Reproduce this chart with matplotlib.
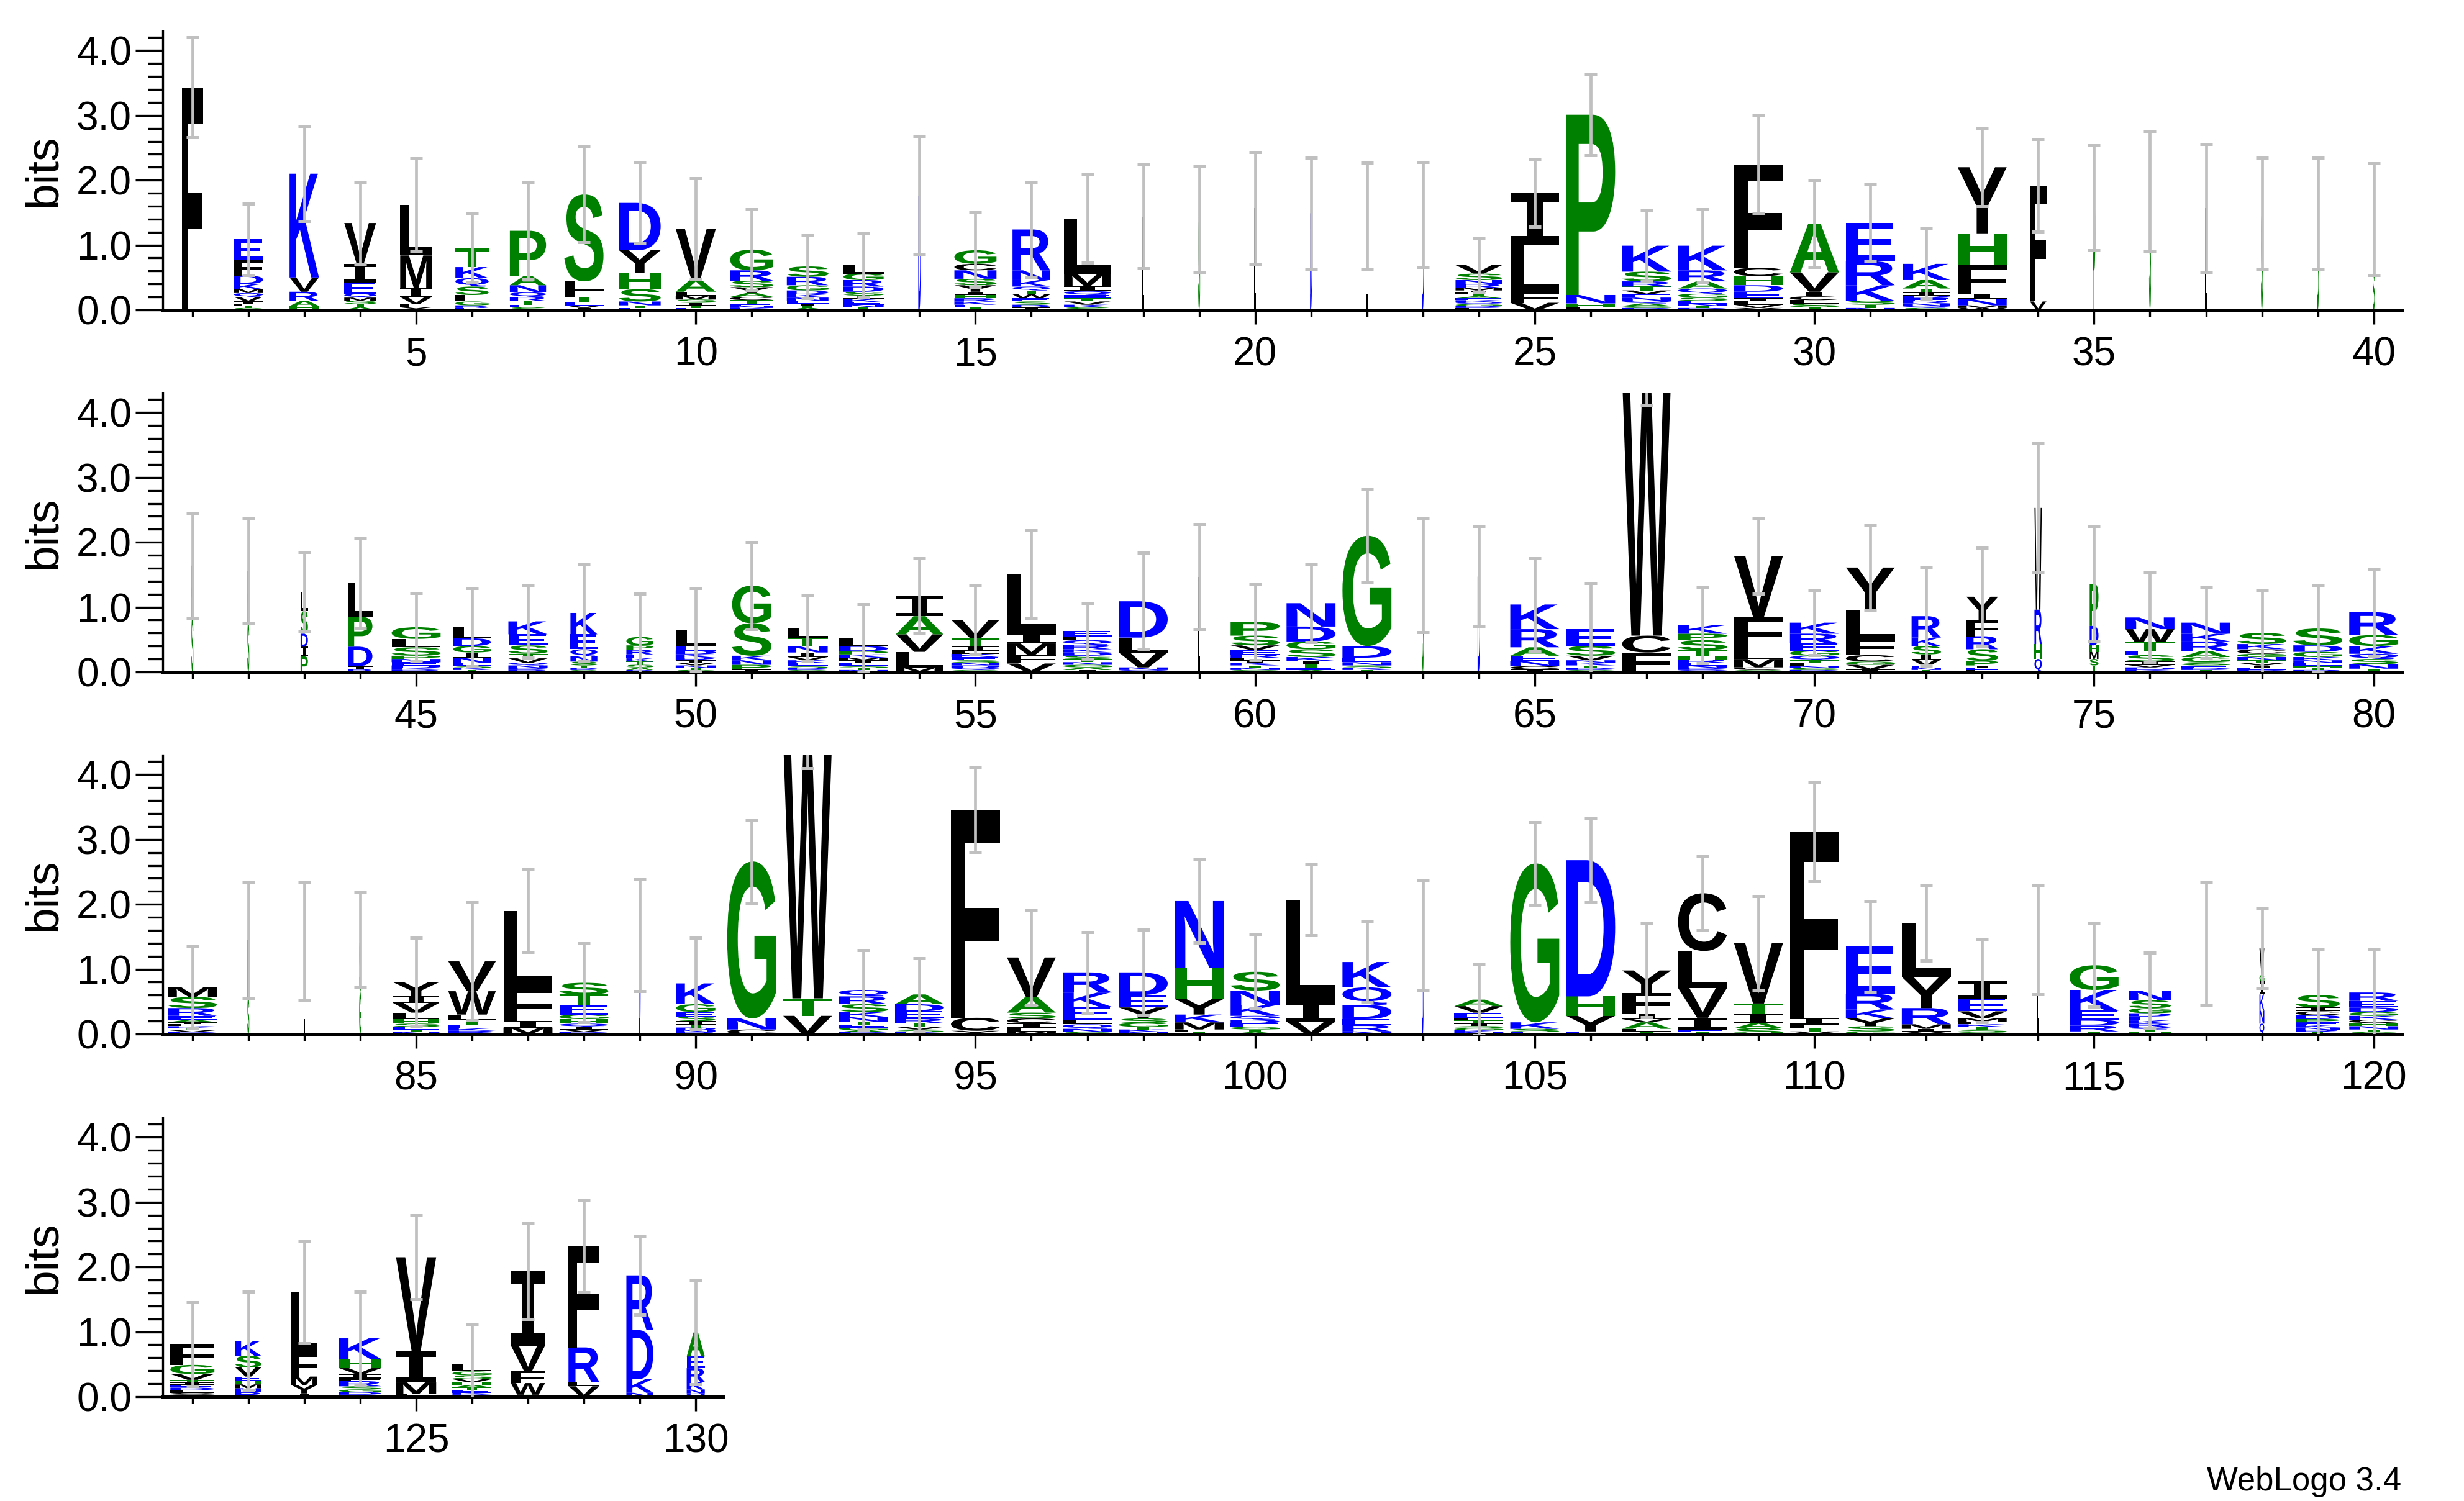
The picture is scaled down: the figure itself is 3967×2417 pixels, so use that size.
import matplotlib
matplotlib.use("Agg")
import matplotlib.pyplot as plt
from matplotlib.textpath import TextPath
from matplotlib.font_manager import FontProperties
from matplotlib.patches import PathPatch
from matplotlib.transforms import Affine2D

# ---------------- data ----------------
# stacks: letters from top to bottom with heights in bits
stacks_row1 = [
    "F3.43", "E.32 F.24 D.13 K.08 M.06 Q.06 V.07 I.04 L.03 T.03 S.03",
    "K1.6 V.22 R.14 A.08 H.06", "V.63 I.29 E.17 Q.06 M.05 S.05 T.05 A.04",
    "L.78 M.5 I.14 V.11 F.05 Y.04", "T.29 K.17 Q.13 S.13 L.1 G.06 R.04 E.03",
    "P.7 A.14 N.11 Q.07 R.06 T.06 E.04 S.04", "S1.34 L.14 F.1 T.08 E.05 V.04 I.03",
    "D.73 Y.35 H.25 S.19 N.06 T.04 E.03", "V.78 A.19 L.06 M.06 S.05 I.04 T.04 E.03",
    "G.32 R.16 S.1 Y.09 A.06 C.05 T.05 E.04 N.03 K.03",
    "S.16 R.13 G.08 D.06 K.05 N.05 E.04 I.04 T.03 A.03",
    "L.13 G.1 R.1 D.08 S.06 I.05 K.05 E.04 N.04 T.04", "D1.76",
    "G.21 C.1 N.13 S.1 Y.1 I.05 H.05 R.05 K.05 E.04 T.04",
    "R.63 N.15 K.1 Q.06 T.06 W.06 E.05 S.05 D.04 I.04",
    "L.85 M.19 I.08 Q.06 E.05 T.05 V.05 K.04 S.04",
    "L1.44", "S1.4", "L1.57", "D1.49", "L1.45", "D1.47",
    "V.13 S.1 N.06 R.06 M.04 I.03 L.03 T.03 A.03 E.03 K.03 Q.03 G.03 D.03 F.03",
    "I.8 L.73 F.16 V.11", "P2.78 N.13 H.05 L.05",
    "K.4 S.15 R.08 T.06 V.06 E.05 N.05 Q.04 A.04 G.03 D.03",
    "K.38 R.17 A.11 Q.08 G.06 S.05 E.04 N.04 T.03 D.03",
    "F1.59 C.13 H.14 D.1 E.1 I.05 L.05 V.05 Y.03",
    "A.75 V.3 I.07 C.06 L.05 S.06 T.04", "E.59 R.37 K.24 S.06 T.05 N.03",
    "K.25 A.13 T.06 I.05 D.04 E.04 R.04 N.04 Q.03 S.03",
    "Y1.02 H.49 F.44 I.08 N.1 M.04 W.03", "F1.79 V.13",
    "P1.73", "S1.83", "L1.57", "S1.49", "S1.49", "L.8 S.6",
]
stacks_row2 = [
    "K.8 S.84", "K.8 S.76", "L.3 S.35 D.2 I.15 P.24", "L.52 P.46 D.3 I.05 R.04",
    "G.18 L.13 S.13 P.05 N.05 E.05 D.04 K.03 R.03",
    "L.17 D.12 G.1 I.08 N.08 E.04 S.04 K.03 T.03",
    "K.2 E.17 S.13 T.07 V.07 Q.04 N.04 D.03 R.03",
    "K.33 E.23 Q.11 N.08 S.06 T.04 D.03 G.03",
    "G.13 P.07 R.07 E.06 K.05 T.05 S.04 A.04 D.03",
    "L.25 E.07 D.06 K.05 R.04 I.04 V.04 N.04 T.03 S.03",
    "G.58 S.5 K.07 N.07 P.07 I.04",
    "L.15 T.13 N.1 I.07 V.05 K.04 E.04 S.04 D.03 G.03",
    "L.12 D.08 P.05 K.05 M.04 I.04 E.04 S.04 T.03 N.03",
    "I.31 A.28 V.27 L.24 M.07",
    "V.28 T.12 I.08 L.04 K.05 E.05 S.04 N.04 D.04 Q.03 G.03",
    "L.9 I.16 M.18 F.13 V.13",
    "E.08 L.06 Q.07 R.07 K.05 D.05 S.05 T.05 N.04 G.04 A.04 I.03",
    "D.56 L.23 V.23 N.04 Q.03", "L1.47",
    "P.21 S.15 V.07 E.07 R.05 L.04 I.04 K.04 T.04 N.03 G.03",
    "N.36 D.23 G.12 S.12 K.06 I.05 T.05 E.04 A.03",
    "G1.7 D.18 E.07 N.05 S.04 K.03 T.03", "S1.49", "D1.47",
    "K.38 R.28 A.13 E.08 N.08 C.05 I.04",
    "E.26 S.15 V.07 N.04 K.04 T.04 D.03 G.03",
    "W4.0 C.26 F.3",
    "K.13 P.1 S.15 T.1 H.05 R.05 E.04 N.04 D.03 Q.03",
    "V.94 F.5 L.15 M.13 C.04 G.03",
    "K.17 R.15 E.11 G.08 Q.07 T.05 L.04 N.03 S.03 D.03",
    "Y.65 L.45 F.25 C.1 G.05 V.07 I.04",
    "R.33 K.13 S.13 I.08 V.1 E.03 N.03 T.03",
    "Y.36 F.25 R.2 S.18 P.07 I.04 E.03 L.03",
    "W1.57 R.53 H.23 Q.2", "P.65 D.3 H.1 M.11 S.1 T.1",
    "N.18 W.2 T.13 E.07 S.1 I.05 V.04 D.04 K.03",
    "N.17 K.12 R.15 A.09 G.08 S.05 E.04 D.03 T.03",
    "S.17 K.08 C.07 G.05 N.05 T.04 V.04 I.04 E.03 D.03",
    "S.26 D.1 G.08 K.05 N.04 E.04 H.04 T.03 R.03",
    "R.35 G.17 K.12 Q.08 S.08 N.07 T.05",
]
stacks_row3 = [
    "M.15 S.17 R.12 E.06 A.04 I.03 L.03 K.03 T.03 V.03 D.03",
    "L.9 S.55", "L1.43", "S.8 G.65",
    "Y.22 I.1 V.15 L.1 H.07 S.05 E.04 T.04 N.03",
    "V.46 W.36 L.08 T.08 E.05 K.04 R.05", "L1.19 F.51 I.1 M.1",
    "S.18 T.17 E.14 G.07 H.07 Q.05 I.04 V.04 D.03", "D1.52",
    "K.32 G.12 E.07 S.07 I.06 T.04 D.04 N.03 R.03", "G2.42 N.17 C.07",
    "W4.0 T.27 V.28", "Q.1 R.12 S.12 K.08 N.07 T.05 E.04 G.04 A.03 D.03",
    "A.15 D.11 E.11 R.07 T.06 V.04 S.04 K.03", "F3.21 C.2 Y.05",
    "V.61 A.24 S.09 C.07 I.08 L.05 M.04", "R.31 K.22 E.2 L.07 Q.07 N.05 S.03",
    "D.35 E.19 Y.17 S.07 G.06 T.04 K.04 N.03",
    "N1.03 H.48 Y.24 K.12 M.11 L.04 T.03",
    "S.29 N.22 K.17 Q.06 D.06 E.05 G.04 T.04 A.03",
    "L1.57 I.31 V.19", "K.39 Q.27 D.22 E.09 R.1 N.04", "D1.52",
    "A.1 V.1 E.08 L.04 T.05 I.04 S.03 G.03 K.03 N.03",
    "G2.45 K.1 S.05 E.03", "D2.1 H.3 Y.24 E.04",
    "Y.35 F.31 I.09 V.05 A.1 L.04 T.04", "C.89 L.57 V.46 I.18 E.04 T.03",
    "V.93 T.16 I.14 A.08 S.09", "F2.87 I.11 L.05 T.05 V.04",
    "E.73 R.24 K.14 Y.12 S.08 G.04", "L.83 Y.48 R.25 M.07 I.04 V.04",
    "I.27 E.2 V.11 M.05 L.04 K.04 T.04 S.04 G.03", "L1.45",
    "G.38 K.32 E.14 D.09 R.09 T.04",
    "N.15 S.12 G.08 D.05 E.06 K.05 R.05 Q.04 T.04 H.03", "L1.4",
    "V.41 G.1 I.2 K.25 N.2 Q.16",
    "S.19 I.06 C.06 D.06 P.05 E.04 K.04 N.04 R.03 T.03",
    "R.13 E.1 D.07 G.06 K.06 C.05 H.05 N.05 T.04 S.03",
]
stacks_row4 = [
    "F.32 G.14 V.09 T.04 I.04 E.04 D.04 L.04 C.03 M.03",
    "K.23 S.18 V.14 E.06 H.06 M.06 N.06 R.07",
    "L.94 F.36 M.13 Y.13 I.05",
    "K.32 H.14 V.09 I.06 F.05 R.08 S.05 G.04 D.04 Q.03",
    "V1.45 I.48 M.18 L.04",
    "L.12 G.06 S.06 V.05 H.04 A.04 T.04 E.04 K.03 D.03",
    "I1.15 V.4 F.18 W.18 G.03", "F1.56 R.53 L.07 V.16",
    "R.84 D.76 K.21 N.06", "A.37 E.18 R.21 K.12 N.06 Q.05",
]
# fraction of full column width (non-gap fraction)
width_row1 = [.43, .6, .6, .65, .65, .68, .74, .8, .85, .82, .88, .85, .82, .05, .86, .77, .95,
              .04, .04, .04, .04, .04, .04, .95, 1, 1, 1, 1, 1, 1, 1, .97, 1, .34, .05, .04, .04, .04, .04, .04]
width_row2 = [.04, .04, .15, .5, 1, .77, .8, .55, .55, .82, .8, .82, 1, .97, .98, 1, 1, 1, .04, 1,
              1, 1, .03, .05, 1, 1, 1, 1, 1, 1, 1, .6, .65, .15, .18, 1, 1, 1, 1, 1]
width_row3 = [1, .04, .03, .04, .95, .97, 1, 1, .03, .8, 1, 1, 1, 1, 1, 1, 1, 1, 1, 1,
              1, 1, .03, 1, 1, 1, 1, 1, 1, 1, 1, 1, 1, .05, 1, .85, .02, .1, .9, 1]
width_row4 = [.9, .53, .53, .86, .82, .8, .7, .63, .55, .37]
# upper end of the error bar at each position (bits)
err_top_row1 = [4.2, 1.64, 2.83, 1.97, 2.34, 1.48, 1.96, 2.52, 2.28, 2.03, 1.55, 1.16, 1.18, 2.67, 1.5,
                1.97, 2.09, 2.24, 2.22, 2.43, 2.35, 2.27, 2.28, 1.11, 2.32, 3.64, 1.54, 1.55, 3.0, 2.0,
                1.93, 1.25, 2.8, 2.63, 2.54, 2.76, 2.56, 2.35, 2.35, 2.26]
err_top_row2 = [2.45, 2.37, 1.85, 2.07, 1.22, 1.29, 1.34, 1.66, 1.21, 1.29, 2.0, 1.19, 1.04, 1.75, 1.33,
                2.18, 1.06, 1.84, 2.28, 1.36, 1.66, 2.82, 2.37, 2.24, 1.75, 1.37, 5.0, 1.31, 2.37, 1.26,
                2.27, 1.62, 1.92, 3.53, 2.25, 1.54, 1.31, 1.26, 1.34, 1.59]
err_top_row3 = [1.35, 2.34, 2.34, 2.18, 1.48, 2.03, 2.54, 1.4, 2.38, 1.48, 3.3, 5.0, 1.29, 1.17, 4.11,
                1.91, 1.57, 1.61, 2.69, 1.53, 2.62, 1.73, 2.37, 1.08, 3.27, 3.33, 1.7, 2.74, 2.13, 3.88,
                2.05, 2.29, 1.46, 2.29, 1.7, 1.25, 2.35, 1.93, 1.31, 1.31]
err_top_row4 = [1.46, 1.62, 2.4, 1.62, 2.8, 1.11, 2.68, 3.03, 2.48, 1.79]

rows = [
    (1, stacks_row1, width_row1, err_top_row1, 40),
    (41, stacks_row2, width_row2, err_top_row2, 40),
    (81, stacks_row3, width_row3, err_top_row3, 40),
    (121, stacks_row4, width_row4, err_top_row4, 10),
]

COLORS = {}
for c in "RKDENQ":
    COLORS[c] = "#0000ff"
for c in "SGHTAP":
    COLORS[c] = "#008000"
for c in "YVMCLFIW":
    COLORS[c] = "#000000"

FULL_W = 0.875
YMAX = 4.3

fp = FontProperties(family="Liberation Sans", weight="bold")
fp_serif_i = FontProperties(family="DejaVu Sans Mono", weight="bold")
_cache = {}


def glyph(ch):
    if ch not in _cache:
        p = TextPath((0, 0), ch, size=1, prop=fp_serif_i if ch == "I" else fp)
        _cache[ch] = (p, p.get_extents())
    return _cache[ch]


def draw_letter(ax, ch, x, y0, w, h):
    p, e = glyph(ch)
    t = (Affine2D().translate(-e.x0, -e.y0)
         .scale(w / e.width, h / e.height)
         .translate(x - w / 2, y0))
    ax.add_patch(PathPatch(t.transform_path(p), fc=COLORS[ch], ec="none", lw=0, zorder=2))


def parse(s):
    out = []
    for tok in s.split():
        out.append((tok[0], float(tok[1:])))
    return out


plt.rcParams["font.family"] = ["Liberation Sans", "DejaVu Sans"]
fig = plt.figure(figsize=(39.67, 24.17), dpi=100)

W_PX, H_PX = 3967, 2417
baselines = [499, 1082, 1665, 2249]
ax_h = 449
left_px = 262
pos_px = 90.05

for (start, stacks, widths, errs, n), base in zip(rows, baselines):
    xl0 = start - 0.53
    xl1 = start - 1 + 40.51 if n == 40 else start - 1 + 10.5
    width_px = (xl1 - xl0) * pos_px
    ax = fig.add_axes([left_px / W_PX, 1 - base / H_PX, width_px / W_PX, ax_h / H_PX])
    ax.set_xlim(xl0, xl1)
    ax.set_ylim(0, YMAX)
    tops = []
    xs = []
    for i, s in enumerate(stacks):
        x = start + i
        items = parse(s)
        y = 0.0
        w = FULL_W * widths[i]
        for ch, h in reversed(items):
            draw_letter(ax, ch, x, y, w, h)
            y += h
        tops.append(y)
        xs.append(x)
    yerr = [e - t for e, t in zip(errs, tops)]
    ax.errorbar(xs, tops, yerr=yerr, fmt="none", ecolor="#c0c0c0", elinewidth=3.4,
                capsize=7, capthick=3.6, zorder=3, clip_on=True)
    for sp in ("top", "right"):
        ax.spines[sp].set_visible(False)
    ax.spines["bottom"].set_linewidth(3.6)
    ax.spines["left"].set_linewidth(2.4)
    ax.set_yticks([0, 1, 2, 3, 4])
    ax.set_yticklabels(["0.0", "1.0", "2.0", "3.0", "4.0"])
    ax.set_yticks([k * 0.2 for k in range(22)], minor=True)
    major_x = [v for v in range(start, start + n) if v % 5 == 0]
    ax.set_xticks(major_x)
    ax.set_xticklabels([str(v) for v in major_x])
    ax.set_xticks(list(range(start, start + n)), minor=True)
    ax.tick_params(axis="y", which="major", length=32, width=2.4, labelsize=46, pad=4)
    ax.tick_params(axis="y", which="minor", length=17, width=2.4)
    ax.tick_params(axis="x", which="major", length=16.5, width=2.4, labelsize=46, pad=14)
    ax.tick_params(axis="x", which="minor", length=8, width=2.4)
    fig.text(70 / W_PX, 1 - (base - ax_h / 2) / H_PX, "bits", rotation=90,
             ha="center", va="center", fontsize=54)

fig.text(3866 / W_PX, 1 - 2400 / H_PX, "WebLogo 3.4", ha="right", va="baseline", fontsize=38)

fig.savefig("out.png", dpi=100)
